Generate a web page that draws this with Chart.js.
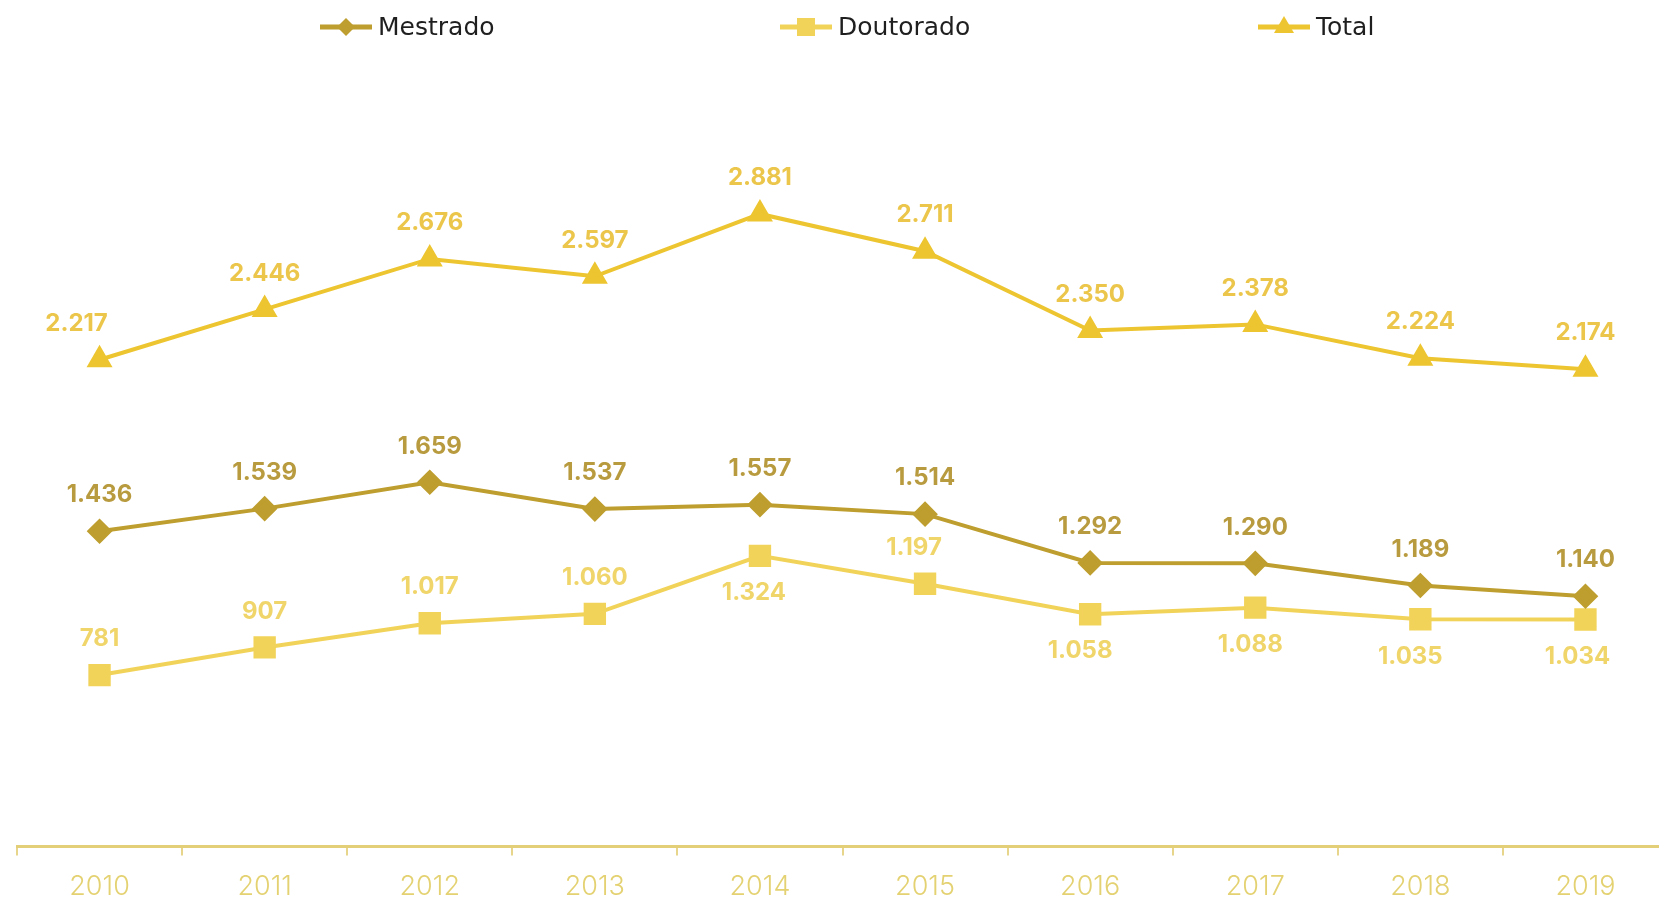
<!DOCTYPE html>
<html>
<head>
<meta charset="utf-8">
<script src="https://cdn.jsdelivr.net/npm/chart.js@4.4.1/dist/chart.umd.min.js"></script>
<style>
  html, body { margin: 0; padding: 0; background: #fff; overflow: hidden; }
  canvas { display: block; }
</style>
</head>
<body>
<canvas id="myChart" width="1668" height="900"></canvas>
<script>
// dados
const anos = ['2010', '2011', '2012', '2013', '2014', '2015', '2016', '2017', '2018', '2019'];
const mestrado = [1436, 1539, 1659, 1537, 1557, 1514, 1292, 1290, 1189, 1140];
const doutorado = [781, 907, 1017, 1060, 1324, 1197, 1058, 1088, 1035, 1034];
const total = [2217, 2446, 2676, 2597, 2881, 2711, 2350, 2378, 2224, 2174];

const corMestrado = '#BE9E2E';
const corDoutorado = '#F2D35A';
const corTotal = '#EDC531';

function fmt(v) {
  return String(v).replace(/\B(?=(\d{3})+(?!\d))/g, '.');
}

// rotulos de valor
const rotulos = {
  id: 'rotulos',
  afterDatasetsDraw(chart, args, opts) {
    const ctx = chart.ctx;
    ctx.save();
    ctx.font = '700 24px Inter';
    ctx.textAlign = 'center';
    ctx.textBaseline = 'middle';
    chart.data.datasets.forEach(function(ds, d) {
      const meta = chart.getDatasetMeta(d);
      const lado = opts.lado[d] || [];
      const dx = opts.dx[d] || [];
      ctx.fillStyle = opts.cores[d];
      meta.data.forEach(function(pt, i) {
        const dy = lado[i] === 'b' ? 37 : -36;
        ctx.fillText(fmt(ds.data[i]), pt.x + (dx[i] || 0), pt.y + dy);
      });
    });
    ctx.restore();
  }
};

// legenda com linha + marcador
function marcador(ctx, tipo, x, y, cor) {
  ctx.fillStyle = cor;
  ctx.beginPath();
  if (tipo === 'rectRot') {
    ctx.moveTo(x - 9, y); ctx.lineTo(x, y - 9); ctx.lineTo(x + 9, y); ctx.lineTo(x, y + 9);
  } else if (tipo === 'rect') {
    ctx.rect(x - 9, y - 9, 18, 18);
  } else {
    ctx.moveTo(x, y - 11); ctx.lineTo(x + 10, y + 6); ctx.lineTo(x - 10, y + 6);
  }
  ctx.closePath();
  ctx.fill();
}

const legenda = {
  id: 'legenda',
  afterDraw(chart, args, opts) {
    const ctx = chart.ctx;
    ctx.save();
    ctx.font = '25px "DejaVu Sans"';
    ctx.textBaseline = 'middle';
    chart.data.datasets.forEach(function(ds, d) {
      const x0 = opts.inicio[d];
      const y = opts.y;
      ctx.strokeStyle = ds.borderColor;
      ctx.lineWidth = 5;
      ctx.beginPath();
      ctx.moveTo(x0, y);
      ctx.lineTo(x0 + 52, y);
      ctx.stroke();
      marcador(ctx, ds.pointStyle, x0 + 26, y, ds.borderColor);
      ctx.fillStyle = '#1f1f1f';
      ctx.fillText(ds.label, x0 + 58, y + 1);
    });
    ctx.restore();
  }
};

const config = {
  type: 'line',
  data: {
    labels: anos,
    datasets: [
      {
        label: 'Mestrado',
        data: mestrado,
        borderColor: corMestrado,
        backgroundColor: corMestrado,
        borderWidth: 4,
        pointStyle: 'rectRot',
        pointRadius: 10,
        pointHoverRadius: 10,
        tension: 0
      },
      {
        label: 'Doutorado',
        data: doutorado,
        borderColor: corDoutorado,
        backgroundColor: corDoutorado,
        borderWidth: 4,
        pointStyle: 'rect',
        pointRadius: 13,
        pointHoverRadius: 13,
        tension: 0
      },
      {
        label: 'Total',
        data: total,
        borderColor: corTotal,
        backgroundColor: corTotal,
        borderWidth: 4,
        pointStyle: 'triangle',
        pointRadius: 11,
        pointHoverRadius: 11,
        tension: 0
      }
    ]
  },
  options: {
    responsive: false,
    animation: false,
    layout: { autoPadding: false, padding: { top: 78, left: 17, right: 0, bottom: -18 } },
    plugins: {
      legend: { display: false },
      tooltip: { enabled: false },
      rotulos: {
        cores: ['#B99B3F', '#F0D56A', '#EBC64A'],
        lado: [
          [],
          ['t', 't', 't', 't', 'b', 't', 'b', 'b', 'b', 'b'],
          []
        ],
        dx: [
          [],
          [0, 0, 0, 0, -6, -11, -10, -5, -10, -8],
          [-23]
        ]
      },
      legenda: { y: 27, inicio: [320, 780, 1258] }
    },
    scales: {
      x: {
        offset: true,
        grid: {
          display: true,
          offset: true,
          drawOnChartArea: false,
          drawTicks: true,
          tickLength: 9,
          color: '#E6D58A',
          lineWidth: 2
        },
        border: { display: true, color: '#E3CF78', width: 3 },
        ticks: {
          color: '#E4D272',
          padding: 15,
          font: { family: 'Inter', size: 27, weight: '300' }
        }
      },
      y: { display: false, min: 0, max: 3500 }
    }
  },
  plugins: [rotulos, legenda]
};

var myChart = new Chart(document.getElementById('myChart'), config);
</script>
</body>
</html>
